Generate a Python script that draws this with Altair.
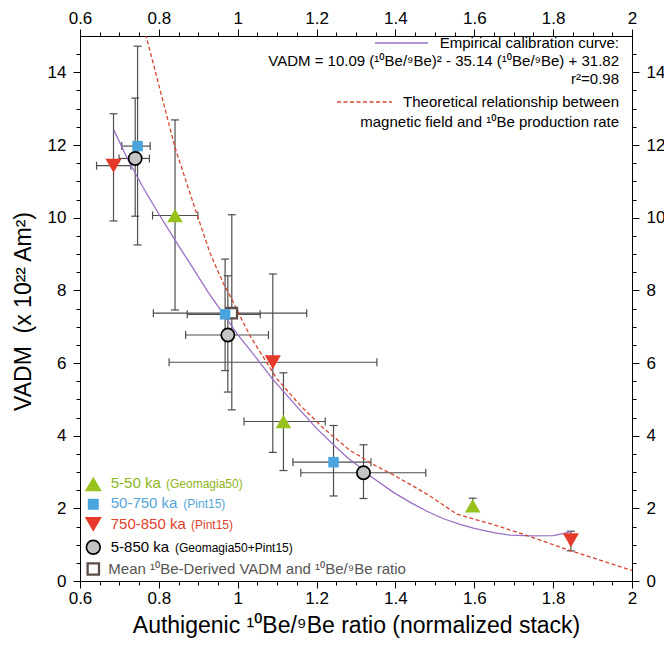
import altair as alt
import pandas as pd

# ---------------- data ----------------
series_names = ["5-50 ka", "50-750 ka", "750-850 ka", "5-850 ka", "Mean"]

# 5-50 ka (Geomagia50)
g_x = [0.841, 1.116, 1.596]
g_y = [10.06, 4.39, 2.07]
g_xlo = [0.784, 1.016, 1.596]
g_xhi = [0.899, 1.222, 1.596]
g_ylo = [7.46, 3.04, 1.95]
g_yhi = [12.69, 5.73, 2.28]

# 50-750 ka (Pint15)
b_x = [0.746, 0.968, 1.243]
b_y = [11.97, 7.34, 3.27]
b_xlo = [0.706, 0.872, 1.140]
b_xhi = [0.778, 1.057, 1.338]
b_ylo = [9.25, 5.79, 2.34]
b_yhi = [14.72, 8.86, 4.28]

# 750-850 ka (Pint15)
r_x = [0.685, 1.089, 1.845]
r_y = [11.43, 6.02, 1.12]
r_xlo = [0.642, 0.826, 1.845]
r_xhi = [0.729, 1.353, 1.845]
r_ylo = [9.91, 3.54, 0.83]
r_yhi = [12.86, 8.45, 1.37]

# 5-850 ka (Geomagia50+Pint15)
c_x = [0.740, 0.975, 1.319]
c_y = [11.63, 6.77, 2.98]
c_xlo = [0.699, 0.868, 1.160]
c_xhi = [0.776, 1.078, 1.477]
c_ylo = [10.04, 5.20, 2.27]
c_yhi = [13.29, 8.40, 3.75]

# Mean 10Be-derived VADM
m_x = [0.985]
m_y = [7.37]
m_xlo = [0.786]
m_xhi = [1.175]
m_ylo = [4.71]
m_yhi = [10.08]

# Empirical calibration curve (purple)
emp_x = [0.686, 0.72, 0.76, 0.80, 0.841, 0.88, 0.926, 0.968, 1.00, 1.05,
         1.089, 1.116, 1.15, 1.20, 1.243, 1.28, 1.319, 1.336, 1.395, 1.44,
         1.48, 1.52, 1.564, 1.60, 1.649, 1.691, 1.74, 1.801, 1.827, 1.845]
emp_y = [12.41, 11.63, 10.83, 10.10, 9.38, 8.72, 7.93, 7.28, 6.78, 6.10,
         5.55, 5.22, 4.80, 4.20, 3.75, 3.38, 3.06, 2.89, 2.44, 2.15,
         1.92, 1.72, 1.56, 1.45, 1.33, 1.26, 1.24, 1.25, 1.31, 1.36]

# Theoretical relationship (red dashed)
th_x = [0.760, 0.7675, 0.841, 0.896, 0.930, 0.964, 0.981, 1.031, 1.099, 1.158,
        1.218, 1.285, 1.311, 1.336, 1.395, 1.480, 1.556, 1.649, 1.734, 1.845, 2.000]
th_y = [15.4, 15.01, 11.93, 10.11, 9.02, 8.18, 7.84, 6.75, 5.57, 4.84,
        4.20, 3.59, 3.43, 3.25, 2.92, 2.39, 1.84, 1.55, 1.25, 0.83, 0.29]

x_major_ticks = [0.6, 0.8, 1.0, 1.2, 1.4, 1.6, 1.8, 2.0]
y_major_ticks = [0, 2, 4, 6, 8, 10, 12, 14]

# ---------------- tables ----------------
groups = [
    ("5-50 ka", g_x, g_y, g_xlo, g_xhi, g_ylo, g_yhi),
    ("50-750 ka", b_x, b_y, b_xlo, b_xhi, b_ylo, b_yhi),
    ("750-850 ka", r_x, r_y, r_xlo, r_xhi, r_ylo, r_yhi),
    ("5-850 ka", c_x, c_y, c_xlo, c_xhi, c_ylo, c_yhi),
    ("Mean", m_x, m_y, m_xlo, m_xhi, m_ylo, m_yhi),
]
rows = []
for name, xs_, ys_, xl, xh, yl, yh in groups:
    for i in range(len(xs_)):
        rows.append(dict(series=name, x=xs_[i], y=ys_[i], xlo=xl[i], xhi=xh[i],
                         ylo=yl[i], yhi=yh[i]))
pts = pd.DataFrame(rows)
vbars = pts[pts.yhi > pts.ylo]
hbars = pts[pts.xhi > pts.xlo]
caps_h = pd.concat([vbars.assign(cx=vbars.x, cy=vbars.ylo), vbars.assign(cx=vbars.x, cy=vbars.yhi)])
caps_v = pd.concat([hbars.assign(cx=hbars.xlo, cy=hbars.y), hbars.assign(cx=hbars.xhi, cy=hbars.y)])
emp = pd.DataFrame({"x": emp_x, "y": emp_y})
th = pd.DataFrame({"x": th_x, "y": th_y})

# ---------------- layout ----------------
FONT = "Liberation Sans, Noto Sans, sans-serif"
OX, OY = 80, 36          # plot origin on the page
W, H = 552, 545          # plot area

xscale = alt.Scale(domain=[0.6, 2.0], nice=False, zero=False)
yscale = alt.Scale(domain=[0, 15], nice=False, zero=False)
x_ticks = sorted(set([round(0.6 + 0.05 * i, 2) for i in range(29)] + x_major_ticks))
y_ticks = sorted(set([0.5 * i for i in range(30)] + y_major_ticks))
x_major = "abs(datum.value*5 - round(datum.value*5)) < 0.001"
y_major = "abs(datum.value/2 - round(datum.value/2)) < 0.001"


def x_axis(orient, title):
    kw = dict(orient=orient, values=x_ticks, title=title,
              labelExpr=f"{x_major} ? format(datum.value, '~g') : ''",
              tickSize={"condition": {"test": x_major, "value": 7}, "value": 4},
              labelFlush=False, labelOverlap=False, labelPadding=2,
              labelFontSize=17, labelFont=FONT, grid=False)
    if orient == "bottom":
        kw.update(titleFontSize=23, titleFont=FONT, titleFontWeight="normal",
                  titleX=W / 2, titleY=632 - (OY + H), titleBaseline="alphabetic",
                  titleAlign="center")
    return alt.Axis(**kw)


def y_axis(orient, title):
    kw = dict(orient=orient, values=y_ticks, title=title,
              labelExpr=f"{y_major} ? format(datum.value, 'd') : ''",
              tickSize={"condition": {"test": y_major, "value": 7}, "value": 4},
              labelOverlap=False, labelPadding=7,
              labelFontSize=17, labelFont=FONT, grid=False)
    if orient == "left":
        kw.update(titleFontSize=23, titleFont=FONT, titleFontWeight="normal",
                  titleX=30 - OX, titleY=311 - OY, titleAngle=270,
                  titleBaseline="alphabetic", titleAlign="center")
    return alt.Axis(**kw)


ERR = "#4d4d4d"

vrule = alt.Chart(vbars).mark_rule(color=ERR, strokeWidth=1.2).encode(
    x=alt.X("x:Q", scale=xscale,
            axis=x_axis("bottom", "Authigenic \u00b9\u2070Be/\u2079Be ratio (normalized stack)")),
    y=alt.Y("ylo:Q", scale=yscale, axis=y_axis("left", "VADM\u00a0 (x 10\u00b2\u00b2 Am\u00b2)")),
    y2="yhi:Q",
)
hrule = alt.Chart(hbars).mark_rule(color=ERR, strokeWidth=1.2).encode(
    x=alt.X("xlo:Q", scale=xscale, axis=x_axis("top", "")),
    x2="xhi:Q",
    y=alt.Y("y:Q", scale=yscale, axis=y_axis("right", "")),
)
cap1 = alt.Chart(caps_h).mark_point(shape="M-1,0L1,0", size=64, filled=False,
                                     stroke=ERR, strokeWidth=1.2, opacity=1).encode(
    x=alt.X("cx:Q", scale=xscale, axis=None), y=alt.Y("cy:Q", scale=yscale, axis=None))
cap2 = alt.Chart(caps_v).mark_point(shape="M0,-1L0,1", size=64, filled=False,
                                     stroke=ERR, strokeWidth=1.2, opacity=1).encode(
    x=alt.X("cx:Q", scale=xscale, axis=None), y=alt.Y("cy:Q", scale=yscale, axis=None))

PURPLE, DASHRED = "#9a70c6", "#d5462f"
emp_line = alt.Chart(emp).mark_line(color=PURPLE, strokeWidth=1.3).encode(
    x=alt.X("x:Q", scale=xscale, axis=None), y=alt.Y("y:Q", scale=yscale, axis=None),
    order="x:Q")
th_line = alt.Chart(th).mark_line(color=DASHRED, strokeWidth=1.3, strokeDash=[4, 2.5],
                                  clip=True).encode(
    x=alt.X("x:Q", scale=xscale, axis=None), y=alt.Y("y:Q", scale=yscale, axis=None),
    order="x:Q")

GREEN, BLUE, RED, GREY = "#97c21e", "#4aa5de", "#e5392a", "#c4c4c4"
MEANSTROKE = "#5b4d47"


def pts_layer(name, **mk):
    return alt.Chart(pts[pts.series == name]).mark_point(opacity=1, **mk).encode(
        x=alt.X("x:Q", scale=xscale, axis=None), y=alt.Y("y:Q", scale=yscale, axis=None))


mean_pt = pts_layer("Mean", shape="square", size=110, filled=True, fill="white",
                    stroke=MEANSTROKE, strokeWidth=2.3)
blue_pt = pts_layer("50-750 ka", shape="square", size=110, filled=True, color=BLUE)
green_pt = pts_layer("5-50 ka", shape="triangle-up", size=240, filled=True, color=GREEN)
red_pt = pts_layer("750-850 ka", shape="triangle-down", size=260, filled=True, color=RED)
circ_pt = pts_layer("5-850 ka", shape="circle", size=175, filled=True, fill=GREY,
                    stroke="black", strokeWidth=1.7)

# ---------------- annotations / legends (page pixel positions) ----------------
one = pd.DataFrame({"k": [0]})


def txt(s, x, y, color="black", size=15, align="left"):
    return alt.Chart(one).mark_text(text=s, font=FONT, fontSize=size, color=color,
                                    align=align, baseline="alphabetic").encode(
        x=alt.value(x - OX), y=alt.value(y - OY))


def sym(x, y, **mk):
    return alt.Chart(one).mark_point(opacity=1, **mk).encode(
        x=alt.value(x - OX), y=alt.value(y - OY))


def seg(x1, x2, y, **mk):
    return alt.Chart(one).mark_rule(**mk).encode(
        x=alt.value(x1 - OX), x2=alt.value(x2 - OX), y=alt.value(y - OY))


RX = 619
ann = [
    seg(375, 428, 43, color=PURPLE, strokeWidth=1.3),
    txt("Empirical calibration curve:", RX, 48, align="right"),
    txt("VADM = 10.09 (\u00b9\u2070Be/\u2079Be)\u00b2 - 35.14 (\u00b9\u2070Be/\u2079Be) + 31.82", RX, 66, align="right"),
    txt("r\u00b2=0.98", RX, 84, align="right"),
    seg(337, 392, 102, color=DASHRED, strokeWidth=1.3, strokeDash=[4, 2.5]),
    txt("Theoretical relationship between", RX, 107, align="right"),
    txt("magnetic field and \u00b9\u2070Be production rate", RX, 126.5, align="right"),
]

GTXT, BTXT, RTXT = "#8db51b", "#55a6d8", "#e2412e"
LX = 93.3
leg = [
    sym(LX, 484, shape="triangle-up", size=290, filled=True, color=GREEN),
    txt("5-50 ka", 110.7, 487.5, GTXT), txt("(Geomagia50)", 166, 487.5, GTXT, 12),
    sym(LX, 504.3, shape="square", size=121, filled=True, color=BLUE),
    txt("50-750 ka", 110.7, 508, BTXT), txt("(Pint15)", 183.3, 508, BTXT, 12),
    sym(LX, 524.3, shape="triangle-down", size=290, filled=True, color=RED),
    txt("750-850 ka", 110.7, 528.5, RTXT), txt("(Pint15)", 191, 528.5, RTXT, 12),
    sym(LX, 547.3, shape="circle", size=190, filled=True, fill=GREY, stroke="black", strokeWidth=1.7),
    txt("5-850 ka", 110.7, 551.5), txt("(Geomagia50+Pint15)", 175, 551.5, "black", 12),
    sym(LX, 569, shape="square", size=130, filled=True, fill="white", stroke=MEANSTROKE, strokeWidth=2.3),
    txt("Mean \u00b9\u2070Be-Derived VADM and \u00b9\u2070Be/\u2079Be ratio", 108.3, 573.5, "#555555"),
]

chart = alt.layer(
    vrule, hrule, cap1, cap2, emp_line, th_line,
    mean_pt, blue_pt, green_pt, red_pt, circ_pt,
    *ann, *leg,
).resolve_axis(x="independent", y="independent").properties(
    width=W, height=H,
    autosize=alt.AutoSizeParams(type="none"),
    padding={"left": OX - 8, "top": OY - 8, "right": 672 - 8 - OX - W, "bottom": 655 - 8 - OY - H},
    background="white",
).configure_view(stroke="transparent").configure_axis(
    domainColor="black", tickColor="black", labelColor="black", titleColor="black",
    domainWidth=1, tickWidth=1,
)

chart.save("out.html", embed_options={"renderer": "svg", "actions": False})
